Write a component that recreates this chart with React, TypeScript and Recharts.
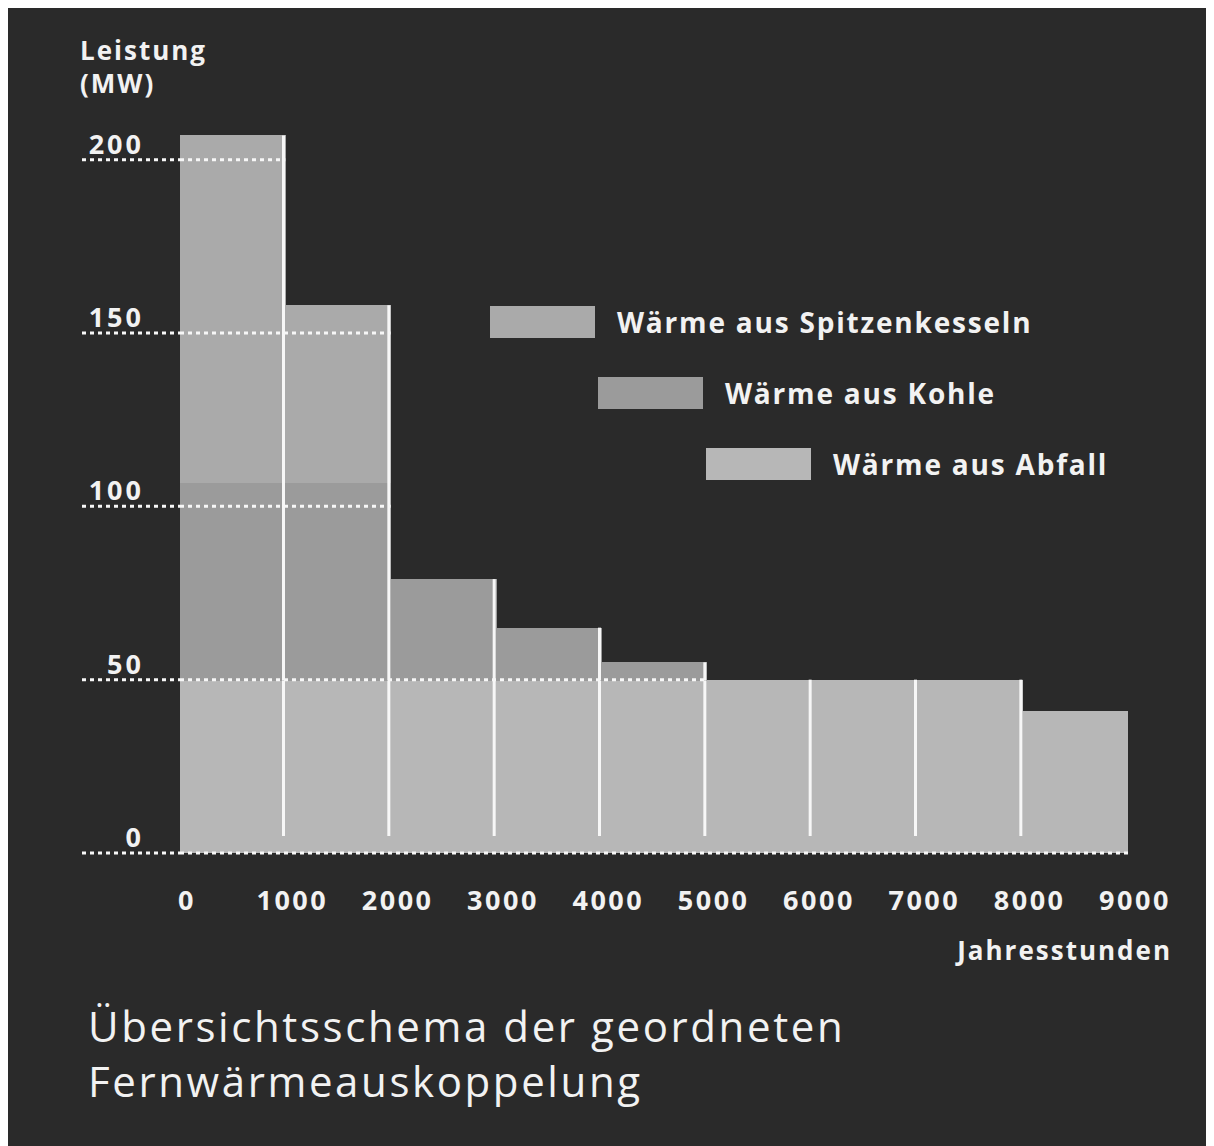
import React from 'react';
import { BarChart, Bar, XAxis, YAxis, ReferenceLine, Legend } from 'recharts';

// ---- data ----
const categories = ['0-1000', '1000-2000', '2000-3000', '3000-4000', '4000-5000', '5000-6000', '6000-7000', '7000-8000', '8000-9000'];
const startHours = [0, 1000, 2000, 3000, 4000, 5000, 6000, 7000, 8000];
const abfall = [50, 50, 50, 50, 50, 50, 50, 50, 41];
const kohle = [57, 57, 29, 15, 5, 0, 0, 0, 0];
const spitzen = [100, 51, 0, 0, 0, 0, 0, 0, 0];
const xTicks = [0, 1000, 2000, 3000, 4000, 5000, 6000, 7000, 8000, 9000];
const yTicks = [0, 50, 100, 150, 200];
// hours up to which each dotted guide line runs
const guideEnds = [9000, 5000, 2000, 2000, 1000];
const seriesKeys = ['abfall', 'kohle', 'spitzen'];
const seriesNames = ['Wärme aus Abfall', 'Wärme aus Kohle', 'Wärme aus Spitzenkesseln'];
const seriesColors = ['#b7b7b7', '#9b9b9b', '#aaaaaa'];

const data = categories.map((c, i) => ({ cat: c, start: startHours[i], abfall: abfall[i], kohle: kohle[i], spitzen: spitzen[i] }));

const BG = '#2a2a2a';
const TXT = '#f2f2f2';
const FONT = '"Open Sans", "Noto Sans", sans-serif';
const LAST = categories.length - 1;

const makeShape = (isBottom: boolean) => (props: any) => {
  const { x, y, width, height, fill, index } = props;
  if (!height || height <= 0) return <g />;
  const lineBottom = isBottom ? y + height - 17 : y + height + 1;
  return (
    <g>
      <rect x={x} y={y} width={width + (index < LAST ? 1 : 0)} height={height + (isBottom ? 0 : 1)} fill={fill} shapeRendering="crispEdges" />
      {index < LAST && (
        <line x1={x + width - 1.5} x2={x + width - 1.5} y1={y} y2={lineBottom} stroke="#f7f7f7" strokeWidth={3} />
      )}
    </g>
  );
};

const YTick = (props: any) => {
  const { y, payload } = props;
  return (
    <g>
      <text x={136} y={y - 6} textAnchor="end" fill={TXT} fontSize={27} fontWeight={700} fontFamily={FONT} letterSpacing={3}>
        {payload.value}
      </text>
      <line x1={74} x2={172} y1={y} y2={y} stroke="#f7f7f7" strokeWidth={3} strokeDasharray="4 4" />
    </g>
  );
};

const XTick = (props: any) => {
  const { x, y, payload } = props;
  return (
    <text x={x + 7} y={y + 19} textAnchor="middle" fill={TXT} fontSize={27} fontWeight={700} fontFamily={FONT} letterSpacing={2.5}>
      {payload.value}
    </text>
  );
};

const LegendContent = (props: any) => {
  const payload = [...(props.payload || [])].reverse();
  return (
    <div style={{ position: 'relative', width: 700, height: 180 }}>
      {payload.map((p: any, i: number) => (
        <div key={p.value} style={{ position: 'absolute', left: i * 108, top: i * 71, display: 'flex', alignItems: 'center' }}>
          <div style={{ width: 105, height: 32, background: p.color }} />
          <span style={{ marginLeft: 22, color: TXT, fontFamily: FONT, fontWeight: 700, fontSize: 28, letterSpacing: 1.8, whiteSpace: 'nowrap' }}>{p.value}</span>
        </div>
      ))}
    </div>
  );
};

export default function App() {
  return (
    <div style={{ position: 'relative', width: 1200, height: 1138, background: BG, fontFamily: FONT }}>
      <div style={{ position: 'absolute', left: 72, top: 26, color: TXT, fontWeight: 700, fontSize: 26, lineHeight: '33px', letterSpacing: 2 }}>
        Leistung<br />(MW)
      </div>
      <BarChart width={1200} height={1138} data={data} barCategoryGap={0} margin={{ top: 117, right: 80, left: 0, bottom: 233 }}>
        <XAxis xAxisId="cat" dataKey="cat" hide />
        <XAxis xAxisId="num" dataKey="start" type="number" domain={[0, 9000]} ticks={xTicks} interval={0} height={60} axisLine={false} tickLine={false} tick={<XTick />} allowDataOverflow />
        <YAxis domain={[0, 210]} ticks={yTicks} width={172} axisLine={false} tickLine={false} tick={<YTick />} />
        {seriesKeys.map((k, i) => (
          <Bar key={k} xAxisId="cat" dataKey={k} name={seriesNames[i]} stackId="a" fill={seriesColors[i]} isAnimationActive={false} shape={makeShape(i === 0)} />
        ))}
        {yTicks.map((t, i) => (
          <ReferenceLine key={t} xAxisId="num" ifOverflow="visible" segment={[{ x: 0, y: t }, { x: guideEnds[i], y: t }]} stroke="#f7f7f7" strokeWidth={3} strokeDasharray="4 4" />
        ))}
        <Legend layout="vertical" align="center" verticalAlign="middle" wrapperStyle={{ left: 482, top: 295, width: 700 }} content={<LegendContent />} />
      </BarChart>
      <div style={{ position: 'absolute', right: 36, top: 924, color: TXT, fontWeight: 700, fontSize: 26, letterSpacing: 2 }}>
        Jahresstunden
      </div>
      <div style={{ position: 'absolute', left: 80, top: 990, color: TXT, fontWeight: 400, fontSize: 42, lineHeight: '55px', letterSpacing: 2.6 }}>
        Übersichtsschema der geordneten<br />Fernwärmeauskoppelung
      </div>
    </div>
  );
}
